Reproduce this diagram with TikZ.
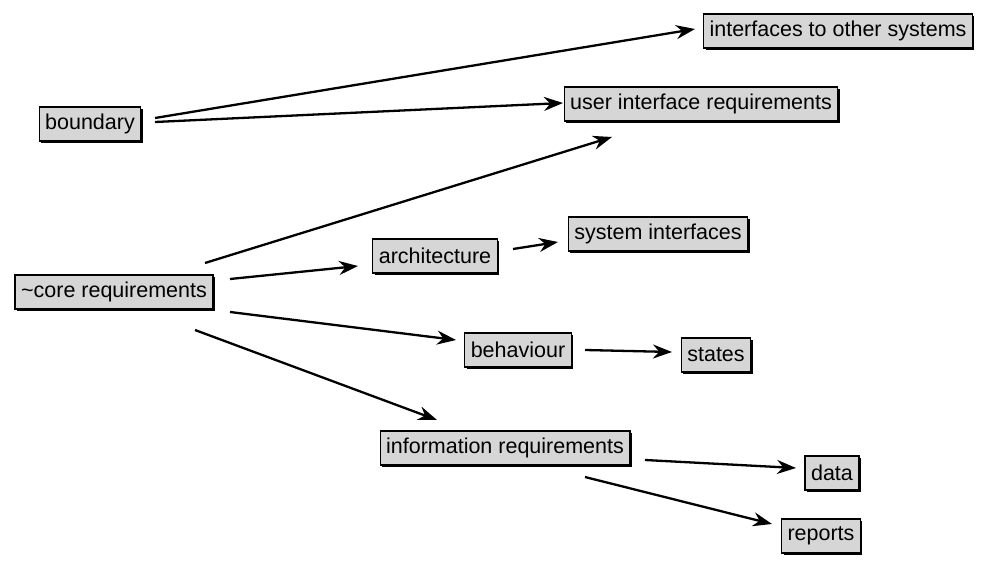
\documentclass[tikz,border=0pt]{standalone}
\usepackage{fontspec}
\setmainfont{Liberation Sans}
\usetikzlibrary{calc,arrows.meta,shadows}
\begin{document}
\begin{tikzpicture}[x=1pt,y=-1pt,
  box/.style={draw=black, line width=1.2pt, fill=gray!32,
    drop shadow={shadow xshift=2pt, shadow yshift=-2pt, fill=black, opacity=1},
    inner xsep=6pt, inner ysep=3pt, minimum height=34pt,
    font=\fontsize{21.5}{23}\selectfont},
  arr/.style={line width=2.3pt, -{Stealth[length=19pt,width=14pt]}}]
\useasboundingbox[fill=white] (0,0) rectangle (988,561);

% requirement topics
\node[box] (boundary) at (90,124) {boundary};
\node[box] (core)     at (114,292) {\textasciitilde core requirements};
\node[box] (ifaces)   at (838,31) {interfaces to other systems};
\node[box] (uireq)    at (701,104) {user interface requirements};
\node[box] (arch)     at (435,256) {architecture};
\node[box] (sysif)    at (658,234) {system interfaces};
\node[box] (behav)    at (518,350) {behaviour};
\node[box] (states)   at (716,355) {states};
\node[box] (info)     at (505,448) {information requirements};
\node[box] (data)     at (832,473) {data};
\node[box] (reports)  at (821,536) {reports};

% refinements
\draw[arr] ($(boundary)+(65,-6)$) -- ($(ifaces)+(-143,-2)$);
\draw[arr] ($(boundary)+(65,-2)$) -- ($(uireq)+(-138,-1)$);
\draw[arr] ($(core)+(91,-29)$)    -- ($(uireq)+(-89,33)$);
\draw[arr] ($(core)+(116,-13)$)   -- ($(arch)+(-77,10)$);
\draw[arr] ($(core)+(116,20)$)    -- ($(behav)+(-62,-10)$);
\draw[arr] ($(core)+(81,38)$)     -- ($(info)+(-68,-28)$);
\draw[arr] ($(arch)+(78,-7)$)     -- ($(sysif)+(-100,8)$);
\draw[arr] ($(behav)+(67,0)$)     -- ($(states)+(-44,-3)$);
\draw[arr] ($(info)+(140,12)$)    -- ($(data)+(-36,-5)$);
\draw[arr] ($(info)+(80,29)$)     -- ($(reports)+(-49,-12)$);
\end{tikzpicture}
\end{document}
